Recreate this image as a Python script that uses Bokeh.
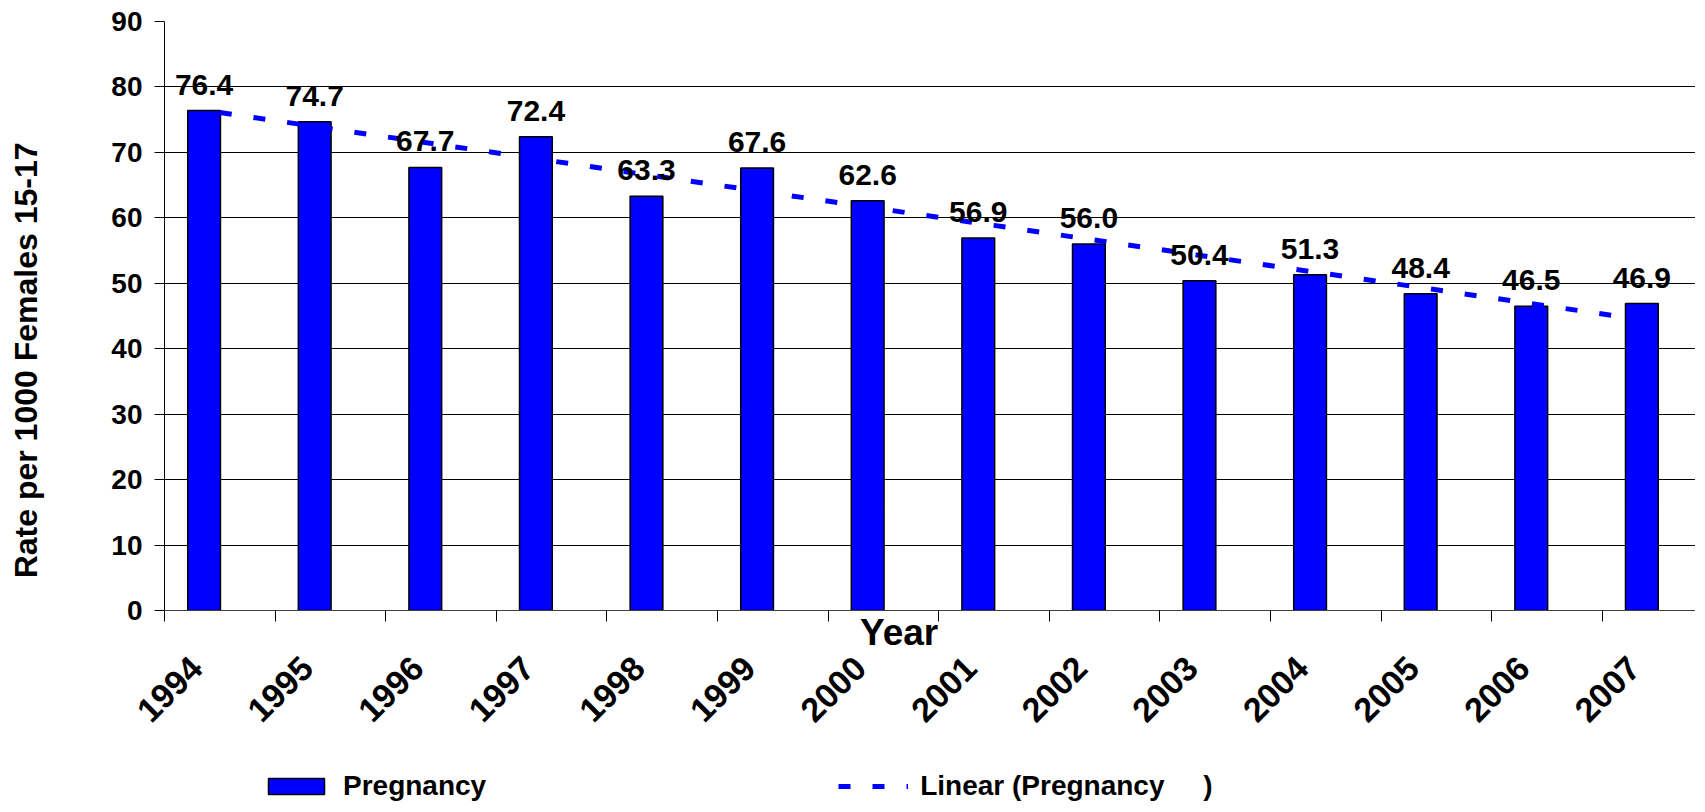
import numpy as np
from math import pi
from bokeh.plotting import figure
from bokeh.layouts import column
from bokeh.models import ColumnDataSource, Range1d, FixedTicker, Legend, LegendItem, LinearAxis
from bokeh.core.properties import value
from bokeh.embed import file_html
from bokeh.resources import INLINE

# ---- data ----
years = ["1994", "1995", "1996", "1997", "1998", "1999", "2000",
         "2001", "2002", "2003", "2004", "2005", "2006", "2007"]
rates = [76.4, 74.7, 67.7, 72.4, 63.3, 67.6, 62.6,
         56.9, 56.0, 50.4, 51.3, 48.4, 46.5, 46.9]
y_ticks = [0, 10, 20, 30, 40, 50, 60, 70, 80, 90]
bar_series = "Pregnancy"
trend_series = "Linear (Pregnancy\u00a0\u00a0\u00a0\u00a0\u00a0)"
x_title = "Year"
y_title = "Rate per 1000 Females 15-17"

FONT = "Liberation Sans"
BLUE = "#0000FF"
NB = "\u00a0"

cat = np.arange(len(years))
bar_x = cat - 0.142
slope, intercept = np.polyfit(cat, rates, 1)
trend = intercept + slope * cat

W = 1695
H_LEG = 40
H_MAIN = 802 - H_LEG

p = figure(width=W, height=H_MAIN, output_backend="svg", toolbar_location=None,
           x_range=Range1d(-0.5, 13.343), y_range=Range1d(0, 90),
           min_border_left=164, min_border_right=0, min_border_top=21,
           min_border_bottom=H_MAIN - 610)
p.outline_line_color = None
p.background_fill_color = "white"
p.border_fill_color = "white"

src = ColumnDataSource(dict(x=bar_x, top=rates, label=[f"{v:.1f}" for v in rates]))
bars = p.vbar(x="x", top="top", bottom=0, width=0.296, source=src,
              fill_color=BLUE, line_color="black", line_width=1.5)
tl = p.line(cat, trend, line_color=BLUE, line_width=5, line_dash="12 22")
p.text(x="x", y="top", text="label", source=src, text_font=value(FONT),
       text_font_style="bold", text_font_size="30px", text_align="center",
       text_baseline="alphabetic", y_offset=-26, text_color="black")

# x axis 1: axis line, category boundary ticks, "Year" title
xa = p.xaxis[0]
xa.ticker = FixedTicker(ticks=[], minor_ticks=[float(c) - 0.5 for c in cat])
xa.major_tick_out = 0
xa.major_tick_in = 0
xa.major_label_standoff = 0
xa.minor_tick_out = 11
xa.minor_tick_in = 0
xa.minor_tick_line_color = "black"
xa.axis_line_color = "#404040"
xa.axis_label = x_title + NB * 6
xa.axis_label_standoff = -10
xa.axis_label_text_font = FONT
xa.axis_label_text_font_style = "bold"
xa.axis_label_text_font_size = "37px"
xa.axis_label_text_color = "black"

# x axis 2: rotated year labels
label_pos = [round(float(c) - 0.21, 3) for c in cat]
xa2 = LinearAxis(ticker=FixedTicker(ticks=label_pos),
                 major_label_overrides={t: years[i] for i, t in enumerate(label_pos)})
xa2.major_label_orientation = pi / 4
xa2.axis_line_color = None
xa2.major_tick_line_color = None
xa2.minor_tick_line_color = None
xa2.major_tick_out = 0
xa2.major_tick_in = 0
xa2.major_label_standoff = 7
xa2.major_label_text_font = FONT
xa2.major_label_text_font_style = "bold"
xa2.major_label_text_font_size = "34px"
xa2.major_label_text_color = "black"
p.add_layout(xa2, "below")

# y axis
ya = p.yaxis[0]
ya.ticker = FixedTicker(ticks=y_ticks)
ya.minor_tick_line_color = None
ya.major_tick_out = 10
ya.major_tick_in = 0
ya.major_tick_line_color = "black"
ya.axis_line_color = "black"
ya.major_label_text_font = FONT
ya.major_label_text_font_style = "bold"
ya.major_label_text_font_size = "28px"
ya.major_label_text_color = "black"
ya.major_label_standoff = 12
ya.axis_label = y_title + NB * 10
ya.axis_label_standoff = 64
ya.axis_label_text_font = FONT
ya.axis_label_text_font_style = "bold"
ya.axis_label_text_font_size = "32px"
ya.axis_label_text_color = "black"

p.xgrid.visible = False
p.ygrid.grid_line_color = "black"
p.ygrid.grid_line_width = 1

# legend strip below the chart (sample renderers are hidden, only the legend shows)
pl = figure(width=W, height=H_LEG, output_backend="svg", toolbar_location=None,
            x_range=Range1d(-0.5, 13.343), y_range=Range1d(0, 90),
            x_axis_location=None, y_axis_location=None,
            min_border_left=0, min_border_right=0, min_border_top=0, min_border_bottom=0)
pl.outline_line_color = None
pl.xgrid.visible = False
pl.ygrid.visible = False
lb = pl.vbar(x="x", top="top", bottom=0, width=0.296, source=src,
             fill_color=BLUE, line_color="black", line_width=1.5, visible=False)
ll = pl.line(cat, trend, line_color=BLUE, line_width=5, line_dash="12 22", visible=False)
legend = Legend(items=[LegendItem(label=value(bar_series), renderers=[lb]),
                       LegendItem(label=value(trend_series), renderers=[ll])],
                location=(97, 0), orientation="horizontal",
                glyph_width=70, glyph_height=20, label_standoff=12, spacing=352,
                padding=0, margin=0, border_line_alpha=0, background_fill_alpha=0,
                label_text_font=FONT, label_text_font_style="bold",
                label_text_font_size="28px", label_text_color="black")
pl.add_layout(legend, "center")

layout = column(p, pl, spacing=0)
open("out.html", "w").write(file_html(layout, INLINE))
